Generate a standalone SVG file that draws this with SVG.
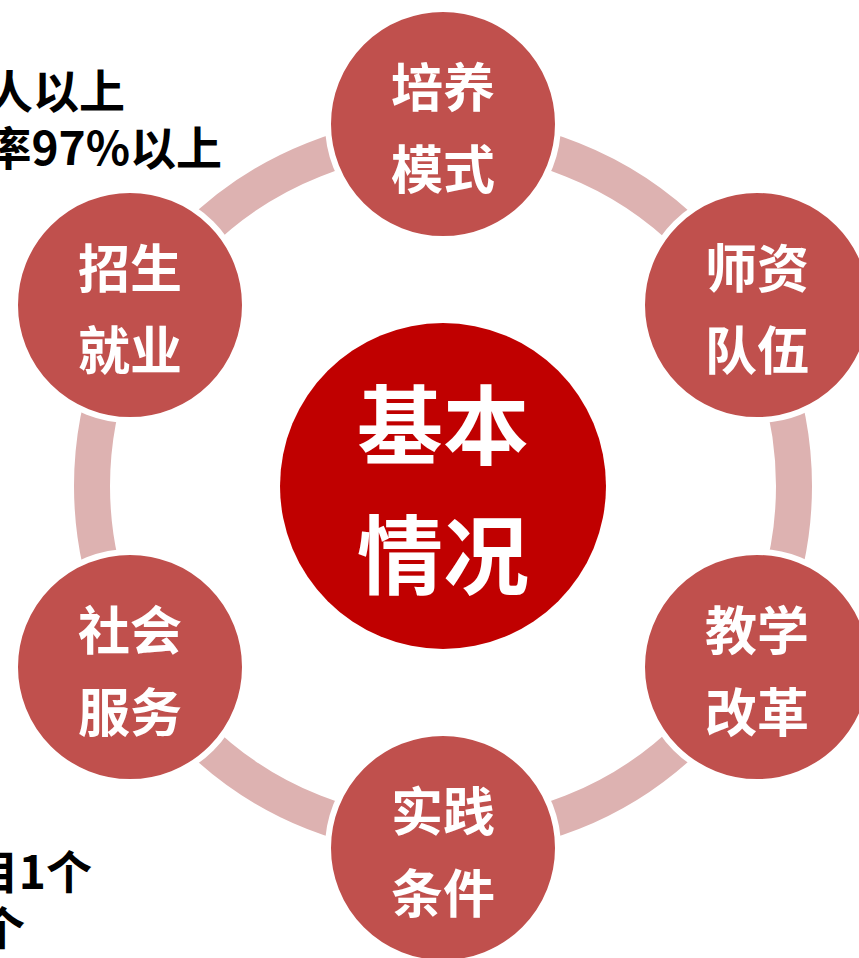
<svg xmlns="http://www.w3.org/2000/svg" width="859" height="958" viewBox="0 0 859 958">
<style>
.ring{fill:none;stroke:#DDB2B1;stroke-width:36}
.node{fill:#C0504D;stroke:#FFFFFF;stroke-width:6}
.nt{font-family:"Noto Sans CJK SC","Microsoft YaHei",sans-serif;font-weight:bold;font-size:52px;fill:#FFFFFF;text-anchor:middle;dominant-baseline:central}
.ct{font-family:"Noto Sans CJK SC","Microsoft YaHei",sans-serif;font-weight:bold;font-size:86px;fill:#FFFFFF;text-anchor:middle;dominant-baseline:central}
.side{font-family:"Noto Sans CJK SC","Microsoft YaHei",sans-serif;font-weight:bold;font-size:46px;fill:#000000;text-anchor:end;dominant-baseline:central}
</style>
<rect width="859" height="958" fill="#FFFFFF"/>
<g id="side-text">
<text class="side" x="125" y="88">人以上</text>
<text class="side" x="222" y="145">率97%以上</text>
<text class="side" x="92" y="869">目1个</text>
<text class="side" x="25" y="925">个</text>
</g>
<g id="connectors">
<circle class="ring" cx="443" cy="486" r="351"/>
</g>
<g id="center">
<circle cx="443" cy="486" r="163" fill="#C00000"/>
<text class="ct" x="443" y="420">基本</text>
<text class="ct" x="443" y="550">情况</text>
</g>
<g id="node-peiyang">
<circle class="node" cx="443" cy="124" r="115"/>
<text class="nt" x="443" y="84">培养</text>
<text class="nt" x="443" y="166">模式</text>
</g>
<g id="node-shizi">
<circle class="node" cx="757" cy="305" r="115"/>
<text class="nt" x="757" y="265">师资</text>
<text class="nt" x="757" y="347">队伍</text>
</g>
<g id="node-jiaoxue">
<circle class="node" cx="757" cy="667" r="115"/>
<text class="nt" x="757" y="627">教学</text>
<text class="nt" x="757" y="709">改革</text>
</g>
<g id="node-shijian">
<circle class="node" cx="443" cy="848" r="115"/>
<text class="nt" x="443" y="808">实践</text>
<text class="nt" x="443" y="890">条件</text>
</g>
<g id="node-shehui">
<circle class="node" cx="130" cy="667" r="115"/>
<text class="nt" x="130" y="627">社会</text>
<text class="nt" x="130" y="709">服务</text>
</g>
<g id="node-zhaosheng">
<circle class="node" cx="130" cy="305" r="115"/>
<text class="nt" x="130" y="265">招生</text>
<text class="nt" x="130" y="347">就业</text>
</g>
</svg>
